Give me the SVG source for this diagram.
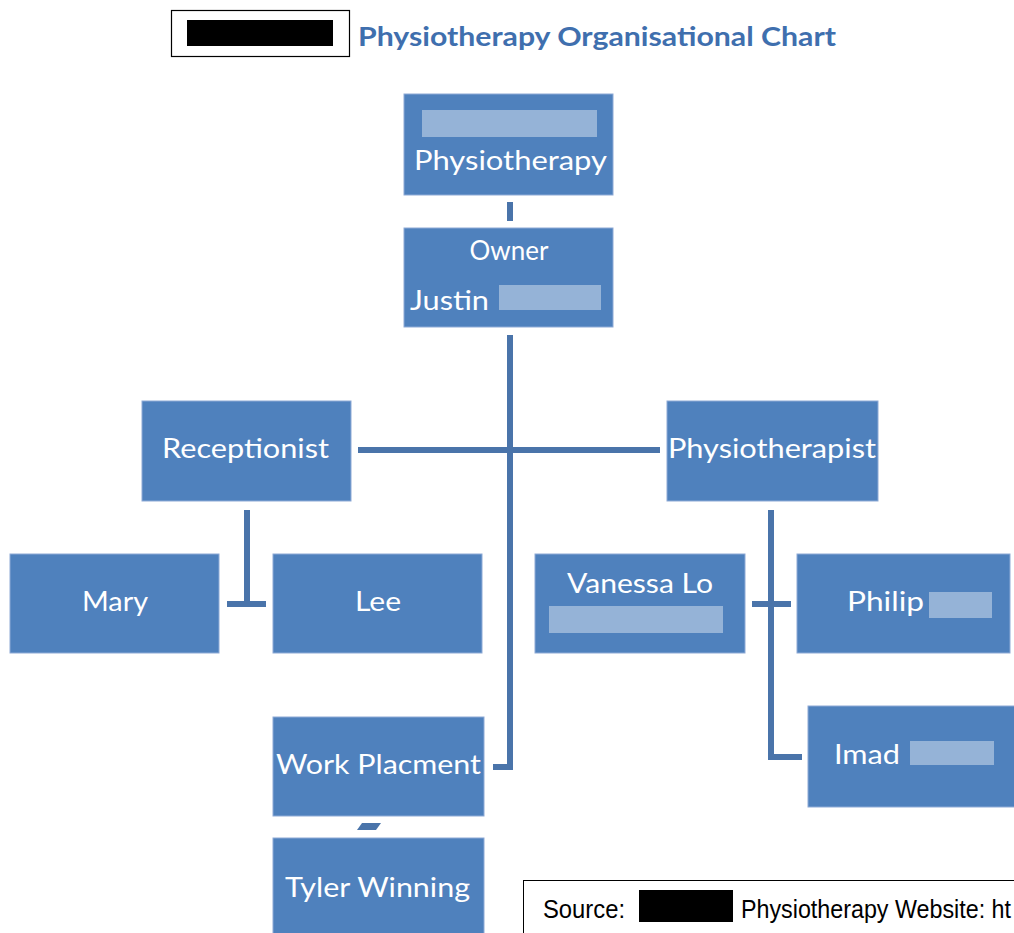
<svg xmlns="http://www.w3.org/2000/svg" width="1014" height="933" viewBox="0 0 1014 933">
<style>
.box{fill:#4F81BD;stroke:#8EAAD6;stroke-width:1}
.red{fill:#95B3D7}
.lbl{font-family:Lato,"Open Sans",sans-serif;font-size:26px;fill:#FFFFFF}
.c{text-anchor:middle}
.con{fill:none;stroke:#4A74AA;stroke-width:6}
.src{font-family:"Liberation Sans",Arial,sans-serif;font-size:26px;fill:#000}
</style>
<rect width="1014" height="933" fill="#FFFFFF"/>
<g id="title">
<rect x="171.5" y="10.5" width="178" height="46" fill="#FFFFFF" stroke="#000" stroke-width="1.2"/>
<rect x="187" y="20" width="146" height="26" fill="#000"/>
<text x="358" y="46" font-family="Lato,'Open Sans',sans-serif" font-weight="bold" font-size="27" fill="#3F6FAE" textLength="478" lengthAdjust="spacingAndGlyphs">Physiotherapy Organisational Chart</text>
</g>
<g id="connectors">
<line class="con" x1="510" y1="202" x2="510" y2="221"/>
<polyline class="con" points="510,335 510,767 493,767"/>
<line class="con" x1="358" y1="450" x2="660" y2="450"/>
<line class="con" x1="247" y1="510" x2="247" y2="604"/>
<line class="con" x1="227" y1="604" x2="266" y2="604"/>
<polyline class="con" points="771,510 771,757 802,757"/>
<line class="con" x1="752" y1="604" x2="791" y2="604"/>
<polygon points="362,823 381,823 376,830 357,830" fill="#4A74AA"/>
</g>
<g id="n-physiotherapy">
<rect class="box" x="404" y="94" width="209" height="101"/>
<rect class="red" x="422" y="110" width="175" height="27"/>
<text class="lbl" x="414" y="170" textLength="193" lengthAdjust="spacingAndGlyphs">Physiotherapy</text>
</g>
<g id="n-owner">
<rect class="box" x="404" y="228" width="209" height="99"/>
<text class="lbl c" x="509" y="260">Owner</text>
<text class="lbl" x="410" y="310" textLength="79" lengthAdjust="spacingAndGlyphs">Justin</text>
<rect class="red" x="499" y="285" width="102" height="25"/>
</g>
<g id="n-receptionist">
<rect class="box" x="142" y="401" width="209" height="100"/>
<text class="lbl" x="162" y="458" textLength="167" lengthAdjust="spacingAndGlyphs">Receptionist</text>
</g>
<g id="n-physiotherapist">
<rect class="box" x="667" y="401" width="211" height="100"/>
<text class="lbl" x="668" y="458" textLength="208" lengthAdjust="spacingAndGlyphs">Physiotherapist</text>
</g>
<g id="n-mary">
<rect class="box" x="10" y="554" width="209" height="99"/>
<text class="lbl" x="82" y="611" textLength="66" lengthAdjust="spacingAndGlyphs">Mary</text>
</g>
<g id="n-lee">
<rect class="box" x="273" y="554" width="209" height="99"/>
<text class="lbl" x="355" y="611" textLength="46" lengthAdjust="spacingAndGlyphs">Lee</text>
</g>
<g id="n-vanessa">
<rect class="box" x="535" y="554" width="210" height="99"/>
<text class="lbl" x="567" y="593" textLength="146" lengthAdjust="spacingAndGlyphs">Vanessa Lo</text>
<rect class="red" x="549" y="606" width="174" height="27"/>
</g>
<g id="n-philip">
<rect class="box" x="797" y="554" width="213" height="99"/>
<text class="lbl" x="847" y="611" textLength="77" lengthAdjust="spacingAndGlyphs">Philip</text>
<rect class="red" x="929" y="592" width="63" height="26"/>
</g>
<g id="n-imad">
<rect class="box" x="808" y="706" width="210" height="101"/>
<text class="lbl" x="834" y="764" textLength="66" lengthAdjust="spacingAndGlyphs">Imad</text>
<rect class="red" x="910" y="741" width="84" height="24"/>
</g>
<g id="n-work">
<rect class="box" x="273" y="717" width="211" height="99"/>
<text class="lbl" x="276" y="774" textLength="205" lengthAdjust="spacingAndGlyphs">Work Placment</text>
</g>
<g id="n-tyler">
<rect class="box" x="273" y="838" width="211" height="100"/>
<text class="lbl" x="285" y="897" textLength="185" lengthAdjust="spacingAndGlyphs">Tyler Winning</text>
</g>
<g id="source">
<rect x="523.5" y="880.5" width="500" height="60" fill="#FFFFFF" stroke="#000" stroke-width="1"/>
<text class="src" x="543" y="918" textLength="82" lengthAdjust="spacingAndGlyphs">Source:</text>
<rect x="639" y="890" width="94" height="32" fill="#000"/>
<text class="src" x="741" y="918" textLength="270" lengthAdjust="spacingAndGlyphs">Physiotherapy Website: ht</text>
</g>
</svg>
